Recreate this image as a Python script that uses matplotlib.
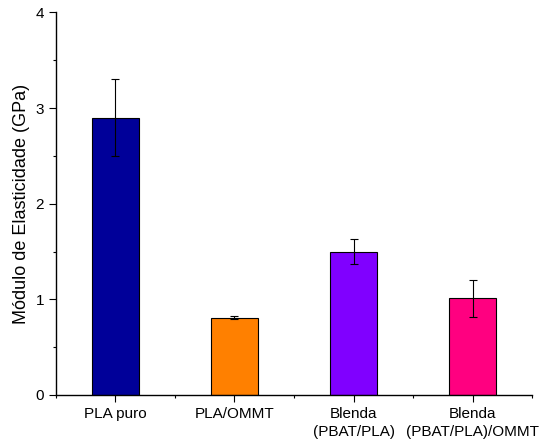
import numpy as np
import matplotlib
matplotlib.use("Agg")
import matplotlib.pyplot as plt
from matplotlib.ticker import MultipleLocator

plt.rcParams['font.family'] = ['Liberation Sans', 'DejaVu Sans']

# data
categories = ["PLA puro", "PLA/OMMT", "Blenda\n(PBAT/PLA)", "Blenda\n(PBAT/PLA)/OMMT"]
modulus = [2.90, 0.81, 1.50, 1.01]
errors = [0.40, 0.02, 0.13, 0.19]
colors = ["#000099", "#FF8000", "#8000FF", "#FF0080"]

fig = plt.figure(figsize=(5.52, 4.43), dpi=100)
ax = fig.add_axes([0.1014, 0.1084, 0.8624, 0.8634])

x = np.arange(1, len(categories) + 1)
ax.bar(x, modulus, width=0.4, color=colors, edgecolor="black", linewidth=0.8,
       yerr=errors, capsize=3,
       error_kw=dict(ecolor="black", elinewidth=0.8, capthick=0.8))

ax.set_xlim(0.5, 4.5)
ax.set_ylim(0, 4)
ax.set_xticks(x)
ax.set_xticklabels(categories, fontsize=11, linespacing=1.3)
ax.xaxis.set_minor_locator(MultipleLocator(1.0, offset=0.5))
ax.yaxis.set_major_locator(MultipleLocator(1))
ax.yaxis.set_minor_locator(MultipleLocator(0.5))
ax.tick_params(axis="both", which="major", direction="out", length=5, width=0.8,
               labelsize=11, colors="black")
ax.tick_params(axis="both", which="minor", direction="out", length=2.5, width=0.8)
ax.tick_params(axis="x", which="major", pad=4)

for side in ["top", "right"]:
    ax.spines[side].set_visible(False)
for side in ["left", "bottom"]:
    ax.spines[side].set_linewidth(1.0)

ax.set_ylabel("Módulo de Elasticidade (GPa)", fontsize=13, labelpad=4)

fig.savefig("out.png", dpi=100)
